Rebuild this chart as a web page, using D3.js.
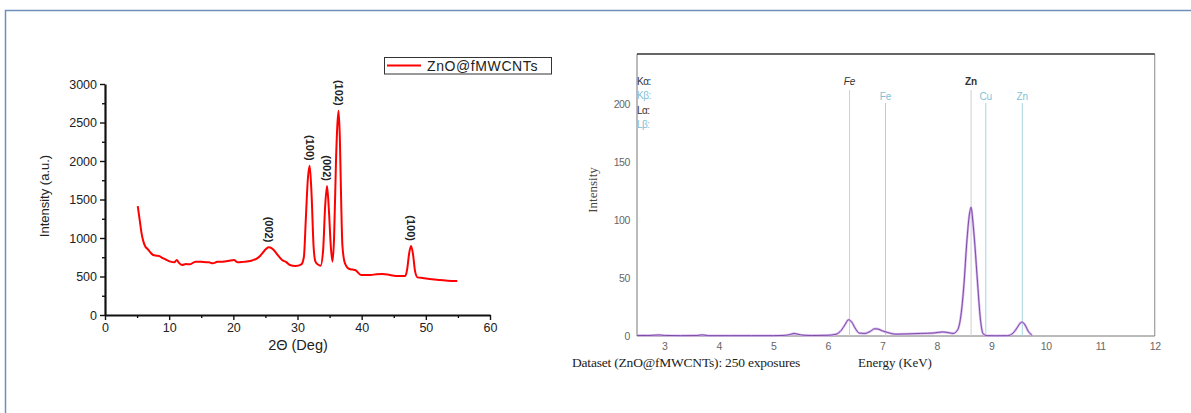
<!DOCTYPE html>
<html>
<head>
<meta charset="utf-8">
<script src="https://cdn.jsdelivr.net/npm/d3@7"></script>
<style>
  html, body { margin: 0; padding: 0; background: #fff; }
  svg { display: block; }
</style>
</head>
<body>
<svg id="chart" width="1191" height="413"></svg>
<script>
// ---------- XRD data (left panel) ----------
const xrdAngle = [5.1, 5.4, 5.7, 6.0, 6.3, 6.6, 7.0, 7.5, 8.0, 8.4, 9.0, 9.6, 10.2, 10.8, 11.2, 11.5, 12.0, 12.6, 13.2, 14.1, 15.0, 16.2, 16.8, 17.5, 18.3, 19.2, 20.1, 20.7, 21.5, 22.8, 23.7, 24.2, 24.6, 25.0, 25.5, 26.0, 26.4, 27.0, 27.6, 28.2, 28.8, 29.7, 30.6, 31.0, 31.3, 31.6, 31.9, 32.2, 32.5, 32.8, 33.2, 33.6, 34.0, 34.3, 34.6, 34.9, 35.2, 35.45, 35.7, 36.0, 36.2, 36.4, 36.6, 36.8, 37.0, 37.4, 38.1, 38.6, 39.0, 39.9, 41.4, 42.3, 43.2, 44.4, 45.6, 46.8, 47.1, 47.4, 47.7, 48.0, 48.3, 48.7, 49.5, 51.0, 52.2, 53.4, 54.9];
const xrdIntensity = [1415, 1240, 1060, 950, 887, 860, 820, 779, 770, 766, 740, 714, 693, 684, 714, 680, 650, 662, 658, 693, 690, 684, 671, 690, 692, 701, 714, 684, 690, 705, 736, 770, 810, 850, 879, 865, 835, 770, 714, 690, 649, 636, 658, 757, 1250, 1750, 1939, 1550, 900, 693, 655, 641, 850, 1400, 1675, 1350, 880, 693, 1000, 2000, 2450, 2654, 2300, 1500, 900, 671, 597, 590, 584, 519, 519, 530, 532, 520, 506, 506, 600, 800, 896, 790, 580, 489, 480, 463, 455, 446, 441];
const xrdTicksX = [0, 10, 20, 30, 40, 50, 60];
const xrdTicksY = [0, 500, 1000, 1500, 2000, 2500, 3000];
const peakAngle = [25.5, 31.9, 34.6, 36.4, 47.7];
const peakValue = [879, 1939, 1675, 2654, 896];
const peakLabel = ["(002)", "(100)", "(002)", "(102)", "(100)"];
const seriesName = "ZnO@fMWCNTs";

// ---------- EDX data (right panel) ----------
const edxEnergy = [2.5, 2.7, 2.9, 3.0, 3.3, 3.6, 3.7, 3.8, 4.2, 4.6, 5.0, 5.2, 5.3, 5.38, 5.45, 5.55, 5.7, 6.0, 6.15, 6.25, 6.32, 6.38, 6.44, 6.5, 6.58, 6.68, 6.78, 6.86, 6.92, 7.0, 7.1, 7.25, 7.45, 7.7, 7.95, 8.1, 8.2, 8.3, 8.38, 8.45, 8.5, 8.55, 8.6, 8.63, 8.66, 8.7, 8.75, 8.8, 8.85, 8.92, 9.1, 9.3, 9.4, 9.48, 9.53, 9.57, 9.62, 9.68, 9.75];
const edxCounts = [0.5, 0.4, 0.9, 0.5, 0.3, 0.4, 1.0, 0.3, 0.3, 0.3, 0.3, 0.5, 1.2, 2.2, 1.6, 0.7, 0.4, 0.6, 1.5, 5, 10, 14, 12, 7, 2.5, 2.2, 4.0, 6.2, 6.0, 4.5, 3.0, 1.6, 1.8, 2.2, 2.6, 3.5, 3.0, 2.2, 5, 20, 45, 80, 105, 111, 100, 78, 45, 15, 2, 0.3, 0.2, 0.3, 2.5, 7.5, 11, 12, 9.5, 4, 0.5];
const edxTicksX = [3, 4, 5, 6, 7, 8, 9, 10, 11, 12];
const edxTicksY = [0, 50, 100, 150, 200];
const lineEnergy = [6.40, 7.06, 8.63, 8.90, 9.57];
const lineName = ["Fe", "Fe", "Zn", "Cu", "Zn"];
const lineKind = ["Ka", "Kb", "Ka", "Kb", "Kb"];
const keyLabels = ["K\u03b1:", "K\u03b2:", "L\u03b1:", "L\u03b2:"];
const keyKinds = ["Ka", "Kb", "La", "Lb"];
const captionText = "Dataset (ZnO@fMWCNTs): 250 exposures";

const svg = d3.select("#chart");

// outer frame
svg.append("path").attr("d", "M5.5,413 V10.5 H1191")
  .attr("fill", "none").attr("stroke", "#6f8fba").attr("stroke-width", 1.5);

// ================= LEFT PANEL =================
const sans = "'Liberation Sans', Arial, sans-serif";
const serif = "'Liberation Serif', 'Times New Roman', serif";
const xL = d3.scaleLinear().domain([0, 60]).range([105, 490]);
const yL = d3.scaleLinear().domain([0, 3000]).range([315, 84]);

const gL = svg.append("g");
// minor ticks
const minorX = d3.range(5, 60, 10);
const minorY = d3.range(250, 3000, 500);
gL.append("g").attr("transform", `translate(0,${yL(0)})`)
  .call(d3.axisBottom(xL).tickValues(minorX).tickSize(3).tickFormat(""))
  .call(g => g.select(".domain").remove())
  .call(g => g.selectAll("line").attr("stroke-width", 1.3));
gL.append("g").attr("transform", `translate(${xL(0)},0)`)
  .call(d3.axisLeft(yL).tickValues(minorY).tickSize(3).tickFormat(""))
  .call(g => g.select(".domain").remove())
  .call(g => g.selectAll("line").attr("stroke-width", 1.3));

const fmt = d3.format("d");
const axXL = gL.append("g").attr("transform", `translate(0,${yL(0)})`)
  .call(d3.axisBottom(xL).tickValues(xrdTicksX).tickFormat(fmt).tickSize(5).tickSizeOuter(0).tickPadding(3));
const axYL = gL.append("g").attr("transform", `translate(${xL(0)},0)`)
  .call(d3.axisLeft(yL).tickValues(xrdTicksY).tickFormat(fmt).tickSize(5).tickSizeOuter(0).tickPadding(3));
[axXL, axYL].forEach(a => {
  a.select(".domain").attr("stroke-width", 2.2).attr("stroke", "#111");
  a.selectAll(".tick line").attr("stroke-width", 1.4).attr("stroke", "#111");
  a.selectAll("text").attr("font-family", sans).attr("font-size", 12.5).attr("fill", "#222");
});

gL.append("text").attr("x", 298).attr("y", 350).attr("text-anchor", "middle")
  .attr("font-family", sans).attr("font-size", 14.5).attr("fill", "#222").text("2\u0398 (Deg)");
gL.append("text").attr("transform", "translate(49,196) rotate(-90)").attr("text-anchor", "middle")
  .attr("font-family", sans).attr("font-size", 13).attr("fill", "#222").text("Intensity (a.u.)");

const xrdData = xrdAngle.map((a, i) => [a, xrdIntensity[i]]);
gL.append("path").datum(xrdData)
  .attr("fill", "none").attr("stroke", "#ff0000").attr("stroke-width", 2)
  .attr("stroke-linejoin", "round")
  .attr("d", d3.line().x(d => xL(d[0])).y(d => yL(d[1])).curve(d3.curveMonotoneX));

peakAngle.forEach((a, i) => {
  gL.append("text")
    .attr("transform", `translate(${xL(a)},${yL(peakValue[i]) - 5}) rotate(90)`)
    .attr("text-anchor", "end").attr("dominant-baseline", "central")
    .attr("font-family", sans).attr("font-size", 11).attr("font-weight", "bold")
    .attr("fill", "#222").text(peakLabel[i]);
});

// legend
const lg = gL.append("g");
lg.append("rect").attr("x", 384.5).attr("y", 57.5).attr("width", 167).attr("height", 16.5)
  .attr("fill", "#fff").attr("stroke", "#333").attr("stroke-width", 1);
lg.append("line").attr("x1", 387).attr("x2", 421).attr("y1", 65.5).attr("y2", 65.5)
  .attr("stroke", "#ff0000").attr("stroke-width", 2);
lg.append("text").attr("x", 427).attr("y", 70.5).attr("font-family", sans)
  .attr("font-size", 14).attr("letter-spacing", 0.6).attr("fill", "#222").text(seriesName);

// ================= RIGHT PANEL =================
const xR = d3.scaleLinear().domain([2.5, 12]).range([637, 1154.75]);
const yR = d3.scaleLinear().domain([0, 200]).range([336, 104]);
const topR = 54;
const gR = svg.append("g");

// frame
gR.append("line").attr("x1", xR(2.5)).attr("x2", xR(2.5)).attr("y1", topR).attr("y2", yR(0))
  .attr("stroke", "#777").attr("stroke-width", 1);
gR.append("line").attr("x1", xR(12)).attr("x2", xR(12)).attr("y1", topR).attr("y2", yR(0))
  .attr("stroke", "#888").attr("stroke-width", 1);
gR.append("line").attr("x1", xR(2.5)).attr("x2", xR(12)).attr("y1", yR(0)).attr("y2", yR(0))
  .attr("stroke", "#777").attr("stroke-width", 1);
gR.append("line").attr("x1", xR(2.5)).attr("x2", xR(12)).attr("y1", topR).attr("y2", topR)
  .attr("stroke", "#333").attr("stroke-width", 1.6);

const axXR = gR.append("g").attr("transform", `translate(0,${yR(0)})`)
  .call(d3.axisBottom(xR).tickValues(edxTicksX).tickFormat(fmt).tickSize(0).tickPadding(7));
const axYR = gR.append("g").attr("transform", `translate(${xR(2.5)},0)`)
  .call(d3.axisLeft(yR).tickValues(edxTicksY).tickFormat(fmt).tickSize(0).tickPadding(7));
[axXR, axYR].forEach(a => {
  a.select(".domain").remove();
  a.selectAll("text").attr("font-family", sans).attr("font-size", 10.5)
    .attr("letter-spacing", -0.4).attr("fill", "#666");
});

// element marker lines
const kindColor = { Ka: "#cfcfcf", Kb: "#a9d3df", La: "#cfcfcf", Lb: "#a9d3df" };
const labelColor = { Ka: "#333", Kb: "#7fc0d6", La: "#333", Lb: "#7fc0d6" };
lineEnergy.forEach((e, i) => {
  const k = lineKind[i];
  const isA = k === "Ka";
  gR.append("line").attr("x1", xR(e)).attr("x2", xR(e))
    .attr("y1", isA ? 90 : 103).attr("y2", yR(0))
    .attr("stroke", kindColor[k]).attr("stroke-width", 1);
  gR.append("text").attr("x", xR(e)).attr("y", isA ? 85 : 100)
    .attr("text-anchor", "middle").attr("font-family", sans)
    .attr("font-size", 10).attr("fill", labelColor[k])
    .attr("font-weight", (isA && lineName[i] === "Zn") ? "bold" : "normal")
    .attr("font-style", (isA && lineName[i] === "Fe") ? "italic" : "normal")
    .text(lineName[i]);
});

keyLabels.forEach((t, i) => {
  gR.append("text").attr("x", xR(2.5)).attr("y", 85 + i * 14.3)
    .attr("font-family", sans).attr("font-size", 10).attr("letter-spacing", -0.5)
    .attr("fill", labelColor[keyKinds[i]]).text(t);
});

const edxData = edxEnergy.map((e, i) => [e, edxCounts[i]]);
const edxLine = d3.line().x(d => xR(d[0])).y(d => yR(d[1])).curve(d3.curveMonotoneX);
gR.append("path").datum(edxData).attr("fill", "none")
  .attr("stroke", "#d7b4ee").attr("stroke-width", 2.4).attr("d", edxLine);
gR.append("path").datum(edxData).attr("fill", "none")
  .attr("stroke", "#6e3f9e").attr("stroke-width", 0.9).attr("d", edxLine);

gR.append("text").attr("transform", "translate(597,190) rotate(-90)").attr("text-anchor", "middle")
  .attr("font-family", serif).attr("font-size", 13).attr("fill", "#444").text("Intensity");
gR.append("text").attr("x", 572).attr("y", 367).attr("font-family", serif)
  .attr("font-size", 13.5).attr("letter-spacing", -0.2).attr("fill", "#222").text(captionText);
gR.append("text").attr("x", 895).attr("y", 367).attr("text-anchor", "middle").attr("font-family", serif)
  .attr("font-size", 13).attr("fill", "#222").text("Energy (KeV)");
</script>
</body>
</html>
